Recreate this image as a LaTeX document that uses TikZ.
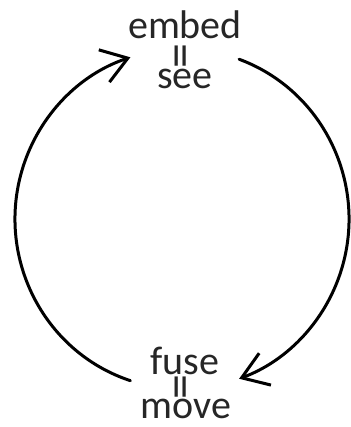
\documentclass[tikz,border=0pt]{standalone}
\usepackage{fontspec}
\setmainfont{Carlito}
\usetikzlibrary{arrows.meta,positioning}

\begin{document}
\begin{tikzpicture}[x=1pt, y=1pt,
    word/.style={
            anchor=base,
            inner sep=0pt,
            text=black!85,
            font=\fontsize{40}{48}\selectfont
        },
        equal/.style={
            rotate=90,
            inner sep=0pt,
            text=black!85,
            font=\fontsize{50}{60}\selectfont
        },
        loopline/.style={
            line width=3pt,
            line cap=round,
            -{Straight Barb[length=25pt,width=34pt]}
        }
]
    \useasboundingbox (0,0) rectangle (350,427);

    \node [word] (embed) at (185,388) {embed};
    \node [equal] (eqtop) at (186,371) {=};
    \node [word] (see) at (185,338) {see};

    \node [word] (fuse) at (185,52) {fuse};
    \node [equal] (eqbot) at (186,40) {=};
    \node [word] (move) at (186,9) {move};

    % ends of the two arcs
    \coordinate (c) at (182,208);
    \path (c) ++(252:167 and 170) coordinate (leftstart);
    \path (c) ++(70:167 and 170) coordinate (rightstart);

    \draw [loopline] (leftstart) arc [start angle=252, end angle=108, x radius=167, y radius=170];
    \draw [loopline] (rightstart) arc [start angle=70, end angle=-70, x radius=167, y radius=170];
\end{tikzpicture}
\end{document}
